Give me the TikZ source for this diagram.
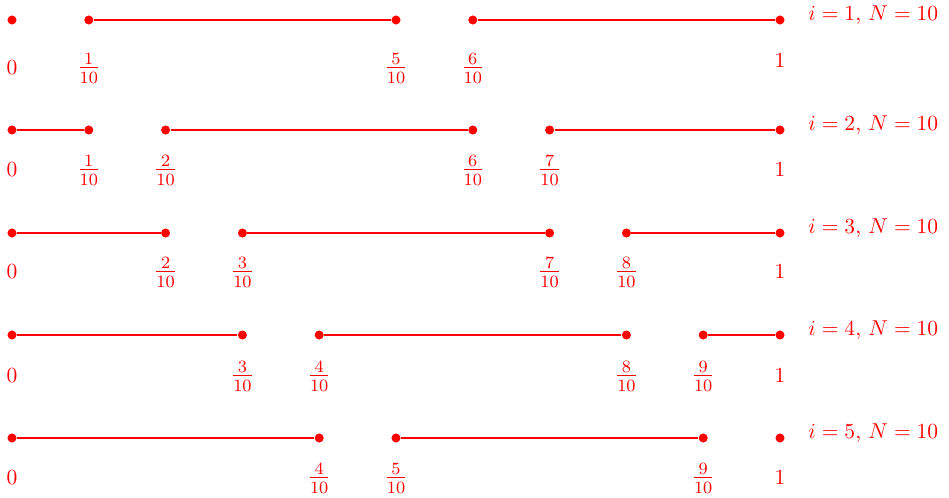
\documentclass[tikz,border=0pt]{standalone}
\usepackage{amsmath}
\usepackage{tikz}
\usetikzlibrary{positioning}
\tikzset{
  pt/.style={circle, fill=red, inner sep=0pt, minimum size=4.2pt},
  seg/.style={draw=red, line width=0.9pt},
  lbl/.style={text=red, inner sep=1pt},
  flbl/.style={lbl, font=\large},
  ttl/.style={text=red, anchor=west, inner sep=0pt},
}

\begin{document}
\begin{tikzpicture}[x=0.465pt, y=-0.465pt]
  \useasboundingbox (0,0) rectangle (949,497);
  % ---------------- one row per i ----------------
  \foreach \i/\y/\ly/\oy in {1/20/68/61, 2/130/170/170, 3/233/272/272, 4/335/376/376, 5/438/478/478}
  {
    \pgfmathtruncatemacro{\a}{\i-1}
    \pgfmathtruncatemacro{\b}{\i}
    \pgfmathtruncatemacro{\c}{\i+4}
    \pgfmathtruncatemacro{\d}{\i+5}
    \node[pt] (z\i) at (12,\y) {};
    \node[pt] (o\i) at (780,\y) {};
    \node[lbl] (z\i l) at (12,\ly) {$0$};
    \node[lbl] (o\i l) at (780,\oy) {$1$};
    \foreach \k in {\a,\b,\c,\d}
    {
      \ifnum\k>0 \ifnum\k<10
        \node[pt] (p\i-\k) at (12+76.8*\k,\y) {};
        \node[flbl] (p\i-\k l) at (12+76.8*\k,\ly) {$\frac{\k}{10}$};
      \fi\fi
    }
    \ifnum\a>0 \draw[seg] (z\i) -- (p\i-\a); \fi
    \draw[seg] (p\i-\b) -- (p\i-\c);
    \ifnum\d<10 \draw[seg] (p\i-\d) -- (o\i); \fi
    \node[ttl] (t\i) at (808,\y-5) {$i=\i$, $N=10$};
  }
\end{tikzpicture}
\end{document}
